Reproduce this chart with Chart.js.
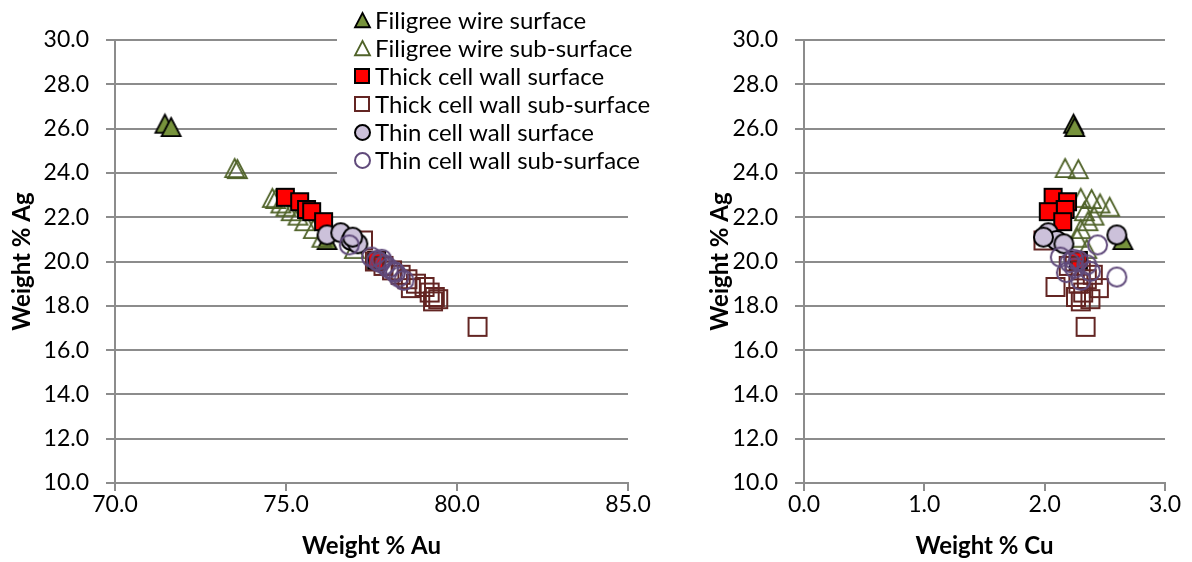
<!DOCTYPE html>
<html>
<head>
<meta charset="utf-8">
<script src="https://cdn.jsdelivr.net/npm/chart.js@4.4.1/dist/chart.umd.min.js"></script>
<style>
  html, body { margin: 0; padding: 0; background: #fff; width: 1192px; height: 562px; overflow: hidden; }
  .panel { position: absolute; top: 0; height: 562px; }
  #auPanel { left: 0; width: 680px; }
  #cuPanel { left: 680px; width: 512px; }
  canvas { display: block; }
</style>
</head>
<body>
<div id="auPanel" class="panel"><canvas id="auChart" width="680" height="562"></canvas></div>
<div id="cuPanel" class="panel"><canvas id="cuChart" width="512" height="562"></canvas></div>
<script>
// ---- series names ----
const seriesNames = [
  'Filigree wire surface',
  'Filigree wire sub-surface',
  'Thick cell wall surface',
  'Thick cell wall sub-surface',
  'Thin cell wall surface',
  'Thin cell wall sub-surface'
];

// ---- tick labels ----
const auTicks = [70, 75, 80, 85];
const cuTicks = [0, 1, 2, 3];
const agTicks = [10, 12, 14, 16, 18, 20, 22, 24, 26, 28, 30];

// ---- measurements (weight %) ----
const filigreeSurfaceAu = [71.46, 71.64, 76.20];
const filigreeSurfaceCu = [2.24, 2.25, 2.65];
const filigreeSurfaceAg = [26.20, 26.05, 20.95];

const filigreeSubAu = [73.50, 73.58, 74.60, 74.70, 74.85, 75.00, 75.15, 75.35, 75.55, 75.80, 76.05, 77.00];
const filigreeSubCu = [2.17, 2.28, 2.30, 2.39, 2.46, 2.54, 2.33, 2.41, 2.36, 2.30, 2.27, 2.35];
const filigreeSubAg = [24.20, 24.15, 22.85, 22.80, 22.60, 22.45, 22.25, 22.05, 21.80, 21.45, 21.05, 20.55];

const thickSurfaceAu = [74.98, 75.40, 75.60, 75.75, 76.10, 77.65];
const thickSurfaceCu = [2.07, 2.19, 2.17, 2.03, 2.15, 2.28];
const thickSurfaceAg = [22.90, 22.70, 22.35, 22.25, 21.80, 20.05];

const thickSubAu = [77.25, 77.60, 77.85, 78.10, 78.35, 78.55, 78.80, 79.05, 78.65, 79.20, 79.35, 79.45, 79.30, 80.60];
const thickSubCu = [1.99, 2.25, 2.20, 2.30, 2.40, 2.35, 2.28, 2.09, 2.45, 2.32, 2.26, 2.38, 2.30, 2.34];
const thickSubAg = [20.95, 20.00, 19.80, 19.60, 19.40, 19.20, 19.00, 18.85, 18.80, 18.60, 18.40, 18.30, 18.20, 17.05];

const thinSurfaceAu = [76.20, 76.60, 76.90, 77.10, 76.95];
const thinSurfaceCu = [2.60, 2.03, 2.10, 2.16, 1.99];
const thinSurfaceAg = [21.20, 21.30, 20.95, 20.80, 21.10];

const thinSubAu = [76.85, 77.50, 77.65, 77.75, 77.90, 78.00, 78.15, 78.30, 78.45, 78.20, 77.80];
const thinSubCu = [2.44, 2.13, 2.28, 2.21, 2.35, 2.25, 2.38, 2.60, 2.30, 2.18, 2.24];
const thinSubAg = [20.75, 20.20, 20.05, 19.95, 19.85, 19.70, 19.55, 19.30, 19.15, 19.50, 20.10];

// ---- styling ----
const FONT = 'Lato, "Open Sans", sans-serif';
const AXIS_GREY = '#8c8c8c';

function makeMarker(shape, size, fill, stroke, lw) {
  const pad = Math.ceil(lw) + 1;
  const c = document.createElement('canvas');
  c.width = size + 2 * pad;
  c.height = size + 2 * pad;
  const g = c.getContext('2d');
  const cx = c.width / 2, cy = c.height / 2, h = size / 2;
  g.beginPath();
  if (shape === 'triangle') {
    g.moveTo(cx, cy - h);
    g.lineTo(cx + h, cy + h * 0.9);
    g.lineTo(cx - h, cy + h * 0.9);
    g.closePath();
  } else if (shape === 'square') {
    g.rect(cx - h, cy - h, size, size);
  } else {
    g.arc(cx, cy, h, 0, Math.PI * 2);
  }
  if (fill) { g.fillStyle = fill; g.fill(); }
  g.lineJoin = 'miter';
  g.lineWidth = lw;
  g.strokeStyle = stroke;
  g.stroke();
  return c;
}

function markerSet(scale) {
  return [
    makeMarker('triangle', Math.round(19 * scale), '#77933C', '#000000', 1.8),
    makeMarker('triangle', Math.round(19 * scale), null, '#4F6228', 1.8),
    makeMarker('square', Math.round(17 * scale), '#FF0000', '#000000', 2),
    makeMarker('square', Math.round(18 * scale), null, '#632523', 2),
    makeMarker('circle', Math.round(19 * scale), '#CCC1DA', '#000000', 2),
    makeMarker('circle', Math.round(19 * scale), null, '#604A7B', 2)
  ];
}
const plotMarkers = markerSet(1);
const keyMarkers = markerSet(0.8);

const seriesAu = [filigreeSurfaceAu, filigreeSubAu, thickSurfaceAu, thickSubAu, thinSurfaceAu, thinSubAu];
const seriesCu = [filigreeSurfaceCu, filigreeSubCu, thickSurfaceCu, thickSubCu, thinSurfaceCu, thinSubCu];
const seriesAg = [filigreeSurfaceAg, filigreeSubAg, thickSurfaceAg, thickSubAg, thinSurfaceAg, thinSubAg];

function buildDatasets(xSeries) {
  return seriesNames.map((name, i) => ({
    label: name,
    data: xSeries[i].map((x, k) => ({ x: x, y: seriesAg[i][k] })),
    pointStyle: plotMarkers[i],
    pointRadius: 9,
    pointHoverRadius: 9,
    showLine: false,
    order: seriesNames.length - 1 - i   // later series drawn on top
  }));
}

// series key drawn over the upper part of the Au panel
const seriesKey = {
  id: 'seriesKey',
  afterDraw(chart) {
    const ctx = chart.ctx;
    ctx.save();
    ctx.fillStyle = '#ffffff';
    ctx.fillRect(337, 4, chart.width - 337, 172);
    ctx.font = '24px ' + FONT;
    ctx.textBaseline = 'middle';
    ctx.textAlign = 'left';
    ctx.fillStyle = '#000000';
    seriesNames.forEach((name, i) => {
      const y = 20 + i * 28;
      const m = keyMarkers[i];
      ctx.drawImage(m, Math.round(362 - m.width / 2), Math.round(y - m.height / 2));
      ctx.fillText(name, 375, y + 1);
    });
    ctx.restore();
  }
};

function makeChart(canvasId, cfg) {
  return new Chart(document.getElementById(canvasId), {
    type: 'scatter',
    data: { datasets: buildDatasets(cfg.xSeries) },
    options: {
      responsive: false,
      animation: false,
      events: [],
      layout: { padding: { left: 0, right: cfg.padRight, top: 40, bottom: 0 } },
      plugins: { legend: { display: false }, tooltip: { enabled: false } },
      scales: {
        x: {
          type: 'linear',
          min: cfg.xTicks[0],
          max: cfg.xTicks[cfg.xTicks.length - 1],
          afterBuildTicks: s => { s.ticks = cfg.xTicks.map(v => ({ value: v })); },
          afterFit: s => { s.height = 79; },
          ticks: {
            callback: v => Number(v).toFixed(1),
            font: { family: FONT, size: 23 },
            color: '#000000',
            padding: 0,
            maxRotation: 0,
            autoSkip: false
          },
          grid: { drawOnChartArea: false, drawTicks: true, tickLength: 8, color: AXIS_GREY, lineWidth: 2 },
          border: { display: true, color: AXIS_GREY, width: 2 },
          title: {
            display: true,
            text: cfg.xTitle,
            font: { family: FONT, size: 24, weight: 'bold' },
            color: '#000000',
            padding: { top: 0, bottom: 1 }
          }
        },
        y: {
          type: 'linear',
          min: agTicks[0],
          max: agTicks[agTicks.length - 1],
          afterBuildTicks: s => { s.ticks = agTicks.map(v => ({ value: v })); },
          afterFit: s => { s.width = cfg.yWidth; },
          ticks: {
            callback: v => Number(v).toFixed(1),
            font: { family: FONT, size: 23 },
            color: '#000000',
            padding: 17,
            autoSkip: false
          },
          grid: { drawOnChartArea: true, drawTicks: true, tickLength: 9, color: AXIS_GREY, lineWidth: 2 },
          border: { display: true, color: AXIS_GREY, width: 2 },
          title: {
            display: true,
            text: 'Weight % Ag',
            font: { family: FONT, size: 24, weight: 'bold' },
            color: '#000000',
            padding: { top: cfg.yTitlePad, bottom: 0 }
          }
        }
      }
    },
    plugins: cfg.plugins || []
  });
}

makeChart('auChart', {
  xSeries: seriesAu,
  xTicks: auTicks,
  xTitle: 'Weight % Au',
  yWidth: 115,
  padRight: 52,
  yTitlePad: 8,
  plugins: [seriesKey]
});

makeChart('cuChart', {
  xSeries: seriesCu,
  xTicks: cuTicks,
  xTitle: 'Weight % Cu',
  yWidth: 124,
  padRight: 27,
  yTitlePad: 26
});
</script>
</body>
</html>
